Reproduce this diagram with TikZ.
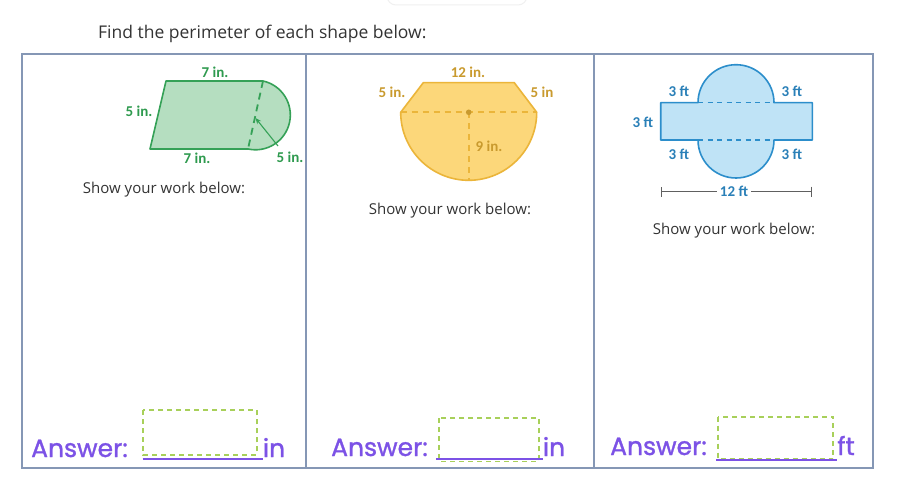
\documentclass[tikz,border=0pt]{standalone}
\usepackage{fontspec}
\setmainfont{Open Sans}
\newfontfamily\labfont{Carlito}
\newfontfamily\popfont{Poppins}[FakeBold=1.2]
\usetikzlibrary{arrows.meta}
\definecolor{gfill}{HTML}{B5DEC0}
\definecolor{gline}{HTML}{35A157}
\definecolor{gtext}{HTML}{2E9A4E}
\definecolor{yfill}{HTML}{FCD77A}
\definecolor{yline}{HTML}{EBB53A}
\definecolor{ytext}{HTML}{C99A2E}
\definecolor{bfill}{HTML}{BFE3F6}
\definecolor{bline}{HTML}{2C8ECB}
\definecolor{btext}{HTML}{2A80B8}
\definecolor{ans}{HTML}{7C52E6}
\definecolor{boxdash}{HTML}{A8D05A}
\definecolor{tbl}{HTML}{8597B5}
\definecolor{txt}{HTML}{333333}
\begin{document}
\begin{tikzpicture}[x=1pt,y=-1pt,
  lbl/.style={font=\labfont\bfseries\fontsize{15}{17}\selectfont, inner sep=0pt},
  work/.style={font=\fontsize{15}{18}\selectfont, text=txt, inner sep=0pt},
  answer/.style={font=\popfont\fontsize{25}{29}\selectfont, text=ans, inner sep=0pt, anchor=base west},
  unit/.style={font=\popfont\fontsize{25}{29}\selectfont, text=ans, inner sep=0pt, anchor=base},
  ansbox/.style={draw=boxdash, line width=1.7pt, dash pattern=on 5pt off 4pt},
  uline/.style={draw=ans, line width=2pt},
  shapeline/.style={line width=1.6pt, line join=round}
]
\useasboundingbox (0,0) rectangle (910,489);
\fill[white] (0,0) rectangle (910,489);
% faint top artifact
\draw[gray!12, line width=1pt, rounded corners=9pt] (387,-20) rectangle (527,5);

% title
\node[font=\fontsize{17.5}{21}\selectfont, text=txt, inner sep=0pt, anchor=base west] (title) at (98,39) {Find the perimeter of each shape below:};

% table
\draw[tbl, line width=1.5pt] (22,54) rectangle (873,468);
\draw[tbl, line width=1.5pt] (306,54) -- (306,468);
\draw[tbl, line width=1.5pt] (594,54) -- (594,468);

% ---------- shape 1 (green)
\filldraw[fill=gfill, draw=gline, shapeline]
  (166,81) -- (263,81) arc[start angle=-77.6, end angle=102.4, radius=34.8] -- (150,149) -- cycle;
\draw[gline, line width=1.8pt, dash pattern=on 7pt off 5pt] (263,81) -- (248,149);
\coordinate (c1) at (255.5,118);
\coordinate (a1) at (278,146);
\draw[gline, line width=1.1pt, -{Stealth[length=6pt,width=5pt]}] (a1) -- (c1);
\node[lbl, text=gtext] (l1a) at (215,72) {7 in.};
\node[lbl, text=gtext] (l1b) at (139,111) {5 in.};
\node[lbl, text=gtext] (l1c) at (197,158) {7 in.};
\node[lbl, text=gtext] (l1d) at (290,157) {5 in.};
\node[work] (w1) at (164,190) {Show your work below:};

% ---------- shape 2 (yellow)
\filldraw[fill=yfill, draw=yline, shapeline]
  (423.3,82.7) -- (514.3,82.7) -- (536.7,112.3) arc[start angle=0, end angle=180, radius=68] -- cycle;
\draw[yline, line width=1.6pt, dash pattern=on 6pt off 5pt] (400.7,112.3) -- (536.7,112.3);
\coordinate (c2) at (468.7,112.3);
\coordinate (b2) at (468.7,180.3);
\draw[yline, line width=1.6pt, dash pattern=on 6pt off 5pt] (c2) -- (b2);
\fill[ytext] (c2) circle (2.8pt);
\node[lbl, text=ytext] (l2a) at (468,72) {12 in.};
\node[lbl, text=ytext] (l2b) at (392,92) {5 in.};
\node[lbl, text=ytext] (l2c) at (542,92) {5 in};
\node[lbl, text=ytext] (l2d) at (489,146) {9 in.};
\node[work] (w2) at (450,211) {Show your work below:};

% ---------- shape 3 (blue)
\filldraw[fill=bfill, draw=bline, shapeline]
  (660.7,102.7) -- (698,102.7) arc[start angle=180, end angle=360, radius=38] -- (812.3,102.7) -- (812.3,140)
  -- (774,140) arc[start angle=0, end angle=180, radius=38] -- (660.7,140) -- cycle;
\draw[bline, line width=1.4pt, dash pattern=on 5pt off 4.5pt] (698,102.7) -- (774,102.7);
\draw[bline, line width=1.4pt, dash pattern=on 5pt off 4.5pt] (698,140) -- (774,140);
\node[lbl, text=btext] (l3a) at (679,91) {3 ft};
\node[lbl, text=btext] (l3b) at (792,91) {3 ft};
\node[lbl, text=btext] (l3c) at (643,122) {3 ft};
\node[lbl, text=btext] (l3d) at (679,154) {3 ft};
\node[lbl, text=btext] (l3e) at (792,154) {3 ft};
\coordinate (d1) at (660.7,191.7);
\coordinate (d2) at (812.3,191.7);
\draw[gray!75!black, line width=0.9pt, {Bar[width=10pt]}-{Bar[width=10pt]}] (d1) -- (d2);
\node[lbl, text=btext, fill=white, inner xsep=3pt, inner ysep=1pt] (l3f) at (734,191.7) {12 ft};
\node[work] (w3) at (734,231) {Show your work below:};

% ---------- answers
\node[answer] (ans1) at (31,457) {Answer:};
\draw[ansbox] (143.3,410) rectangle (256.7,455);
\draw[uline] (142.7,459.3) -- (262.7,459.3);
\node[unit] (u1) at (274,457) {in};

\node[answer] (ans2) at (331,456) {Answer:};
\draw[ansbox] (439.3,418.3) rectangle (539,461.5);
\draw[uline] (436,459.3) -- (542.7,459.3);
\node[unit] (u2) at (554,456) {in};

\node[answer] (ans3) at (610,455) {Answer:};
\draw[ansbox] (718.3,416.7) rectangle (833.3,459.3);
\draw[uline] (716,460) -- (837.3,460);
\node[unit] (u3) at (846,455) {ft};
\end{tikzpicture}
\end{document}
